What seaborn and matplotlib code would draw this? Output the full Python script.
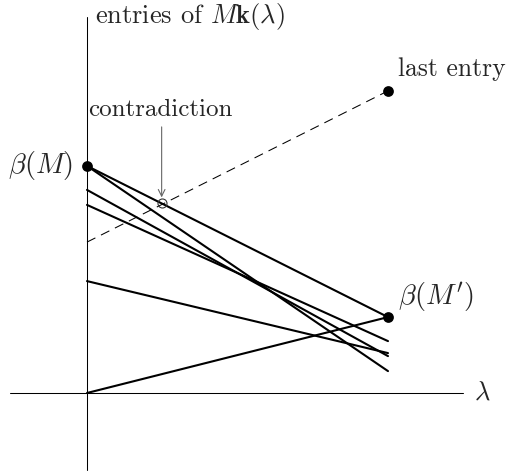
import matplotlib
matplotlib.use("Agg")
import matplotlib.pyplot as plt
import numpy as np
import pandas as pd
import seaborn as sns

# Entries of M k(lambda): value at lambda = 0 and at lambda = lam_end
lam_start, lam_end = 0.0, 10.0
entry_start = [7.57, 7.57, 6.77, 6.27, 3.73, 0.0]
entry_end = [2.53, 0.73, 1.23, 1.73, 1.33, 2.53]

# the last entry (dashed)
last_start, last_end = 5.03, 10.07

# marked points
beta_M = 7.57
beta_Mp = 2.53
contradiction_lam = 2.48

sns.set_theme(style="white")
plt.rcParams["font.family"] = ["cmr10", "DejaVu Serif"]
plt.rcParams["mathtext.fontset"] = "cm"
plt.rcParams["axes.formatter.use_mathtext"] = True

fig = plt.figure(figsize=(5.08, 4.71), dpi=100)
ax = fig.add_axes([0, 0, 1, 1])
ax.set_xlim(-87 / 30.1, (508 - 87) / 30.1)
ax.set_ylim(-(471 - 393) / 30.0, 393 / 30.0)
ax.axis("off")

# coordinate axes
ax.plot([-2.56, 12.49], [0, 0], color="black", lw=0.75, zorder=1)
ax.plot([0, 0], [-2.55, 12.55], color="black", lw=0.75, zorder=1)

rows = []
for i, (a, b) in enumerate(zip(entry_start, entry_end)):
    rows.append({"entry": i, "lam": lam_start, "value": a})
    rows.append({"entry": i, "lam": lam_end, "value": b})
df = pd.DataFrame(rows)

sns.lineplot(data=df, x="lam", y="value", units="entry", estimator=None,
             color="black", lw=1.5, ax=ax, legend=False, zorder=2)

last = pd.DataFrame({"lam": [lam_start, lam_end], "value": [last_start, last_end]})
sns.lineplot(data=last, x="lam", y="value", color="black", lw=0.75,
             linestyle=(0, (9, 6)), ax=ax, legend=False, zorder=2)

pts = pd.DataFrame({"lam": [lam_start, lam_end, lam_end],
                    "value": [beta_M, beta_Mp, last_end]})
sns.scatterplot(data=pts, x="lam", y="value", color="black", s=60,
                edgecolor="black", linewidth=0, ax=ax, zorder=4)

# contradiction point where the first entry meets the last entry
slope = (entry_end[0] - entry_start[0]) / (lam_end - lam_start)
cy = entry_start[0] + slope * contradiction_lam
ax.plot([contradiction_lam], [cy], marker="o", ms=6.5, mfc="none",
        mec="0.2", mew=0.8, zorder=5)
ax.annotate("", xy=(contradiction_lam, cy + 0.2),
            xytext=(contradiction_lam, cy + 2.55),
            arrowprops=dict(arrowstyle="->", color="0.4", lw=0.8,
                            shrinkA=0, shrinkB=0))
ax.text(contradiction_lam - 0.05, cy + 3.1, "contradiction", ha="center",
        va="center", fontsize=18)

ax.text(-0.45, beta_M, r"$\beta(M)$", ha="right", va="center", fontsize=20.5)
ax.text(lam_end + 0.33, beta_Mp + 0.67, r"$\beta(M')$", ha="left", va="center", fontsize=20.5)
ax.text(lam_end + 0.33, last_end + 0.72, "last entry", ha="left", va="center", fontsize=18.5)
ax.text(0.28, 12.55, r"entries of $M\mathbf{k}(\lambda)$", ha="left", va="center", fontsize=19)
ax.text(12.85, 0, r"$\lambda$", ha="left", va="center", fontsize=19)

fig.savefig("out.png", dpi=100)
